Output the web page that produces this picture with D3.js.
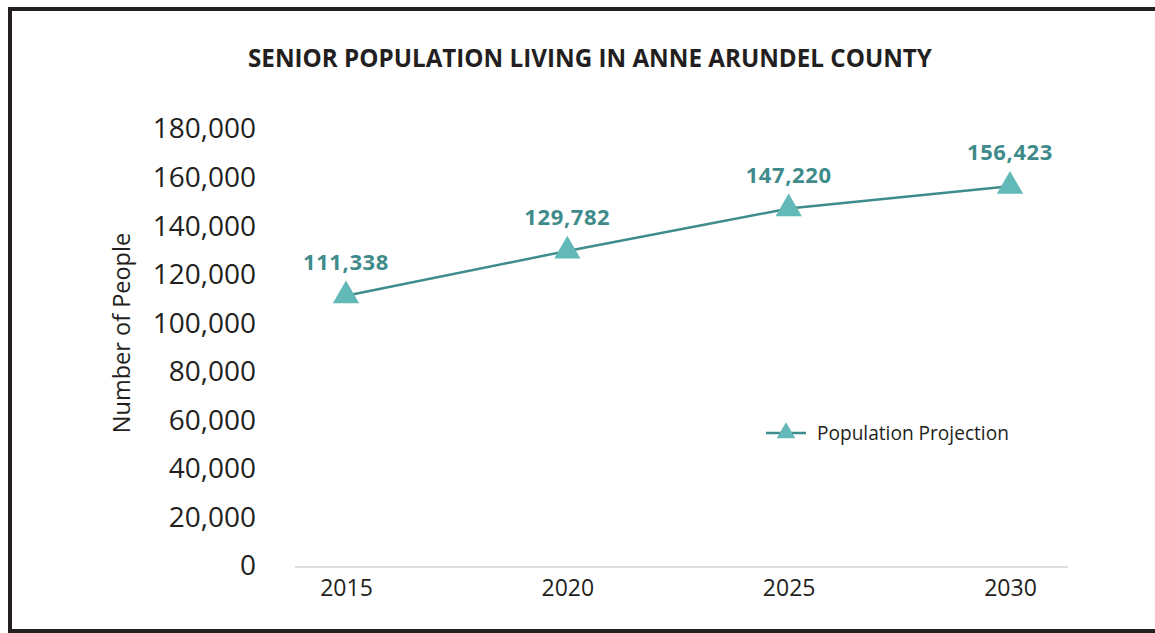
<!DOCTYPE html>
<html>
<head>
<meta charset="utf-8">
<script src="https://cdn.jsdelivr.net/npm/d3@7"></script>
<style>
  html, body { margin: 0; padding: 0; background: #fff; }
  svg { display: block; }
  text { font-family: "Open Sans", "Noto Sans", sans-serif; fill: #231f20; }
</style>
</head>
<body>
<svg id="chart" width="1155" height="633"></svg>
<script>
// Projected number of seniors, Anne Arundel County
const years = ["2015", "2020", "2025", "2030"];
const population = [111338, 129782, 147220, 156423];
const yTicks = [0, 20000, 40000, 60000, 80000, 100000, 120000, 140000, 160000, 180000];
const seriesName = "Population Projection";
const chartTitle = "SENIOR POPULATION LIVING IN ANNE ARUNDEL COUNTY";
const yTitle = "Number of People";

const lineColor = "#3f8c8c";
const markerColor = "#62b9b7";
const labelColor = "#3f8b8b";

const svg = d3.select("#chart");

// frame
svg.append("rect")
  .attr("x", 10).attr("y", 9)
  .attr("width", 1200).attr("height", 622)
  .attr("fill", "#fff")
  .attr("stroke", "#231f20").attr("stroke-width", 4);

// title
svg.append("text")
  .attr("x", 590).attr("y", 67)
  .attr("text-anchor", "middle")
  .attr("font-size", 24.2)
  .attr("font-weight", 700)
  .text(chartTitle);

const x = d3.scalePoint().domain(years).range([346, 1010]);
const y = d3.scaleLinear().domain([0, 180000]).range([566, 129]);

// x axis baseline
svg.append("line")
  .attr("x1", 295).attr("x2", 1068)
  .attr("y1", y(0) + 1).attr("y2", y(0) + 1)
  .attr("stroke", "#d3d3d3").attr("stroke-width", 1.5);

// y axis (labels only)
const yAxis = svg.append("g")
  .attr("transform", "translate(256,0)")
  .call(d3.axisLeft(y).tickValues(yTicks).tickSize(0).tickPadding(0)
    .tickFormat(d3.format(",")));
yAxis.select(".domain").remove();
yAxis.selectAll("text")
  .attr("font-size", 28)
  .attr("fill", "#231f20")
  .style("font-family", "'Open Sans', sans-serif");

// x axis labels
const xAxis = svg.append("g")
  .attr("transform", `translate(0,${y(0)})`)
  .call(d3.axisBottom(x).tickSize(0).tickPadding(14));
xAxis.select(".domain").remove();
xAxis.selectAll("text")
  .attr("font-size", 23)
  .attr("fill", "#231f20")
  .style("font-family", "'Open Sans', sans-serif");

// y axis title
svg.append("text")
  .attr("transform", "translate(130,333) rotate(-90)")
  .attr("text-anchor", "middle")
  .attr("font-size", 23.5)
  .text(yTitle);

const pts = years.map((yr, i) => ({ year: yr, value: population[i] }));

// series line
svg.append("path")
  .datum(pts)
  .attr("fill", "none")
  .attr("stroke", lineColor)
  .attr("stroke-width", 2.5)
  .attr("d", d3.line().x(d => x(d.year)).y(d => y(d.value)));

// triangle markers
const tri = d3.symbol().type(d3.symbolTriangle).size(300);
svg.selectAll(".marker")
  .data(pts)
  .join("path")
  .attr("class", "marker")
  .attr("transform", d => `translate(${x(d.year)},${y(d.value)})`)
  .attr("d", tri)
  .attr("fill", markerColor);

// value labels
svg.selectAll(".vlabel")
  .data(pts)
  .join("text")
  .attr("class", "vlabel")
  .attr("x", d => x(d.year))
  .attr("y", d => y(d.value) - 26)
  .attr("text-anchor", "middle")
  .attr("font-size", 22)
  .attr("font-weight", 700)
  .attr("letter-spacing", 0.6)
  .style("fill", labelColor)
  .text(d => d3.format(",")(d.value));

// legend
const lg = svg.append("g").attr("transform", "translate(766,433)");
lg.append("line")
  .attr("x1", 0).attr("x2", 40)
  .attr("stroke", lineColor).attr("stroke-width", 2.5);
lg.append("path")
  .attr("transform", "translate(20,0)")
  .attr("d", d3.symbol().type(d3.symbolTriangle).size(150)())
  .attr("fill", markerColor);
lg.append("text")
  .attr("x", 51).attr("y", 0)
  .attr("dy", "0.35em")
  .attr("font-size", 19.1)
  .text(seriesName);
</script>
</body>
</html>
